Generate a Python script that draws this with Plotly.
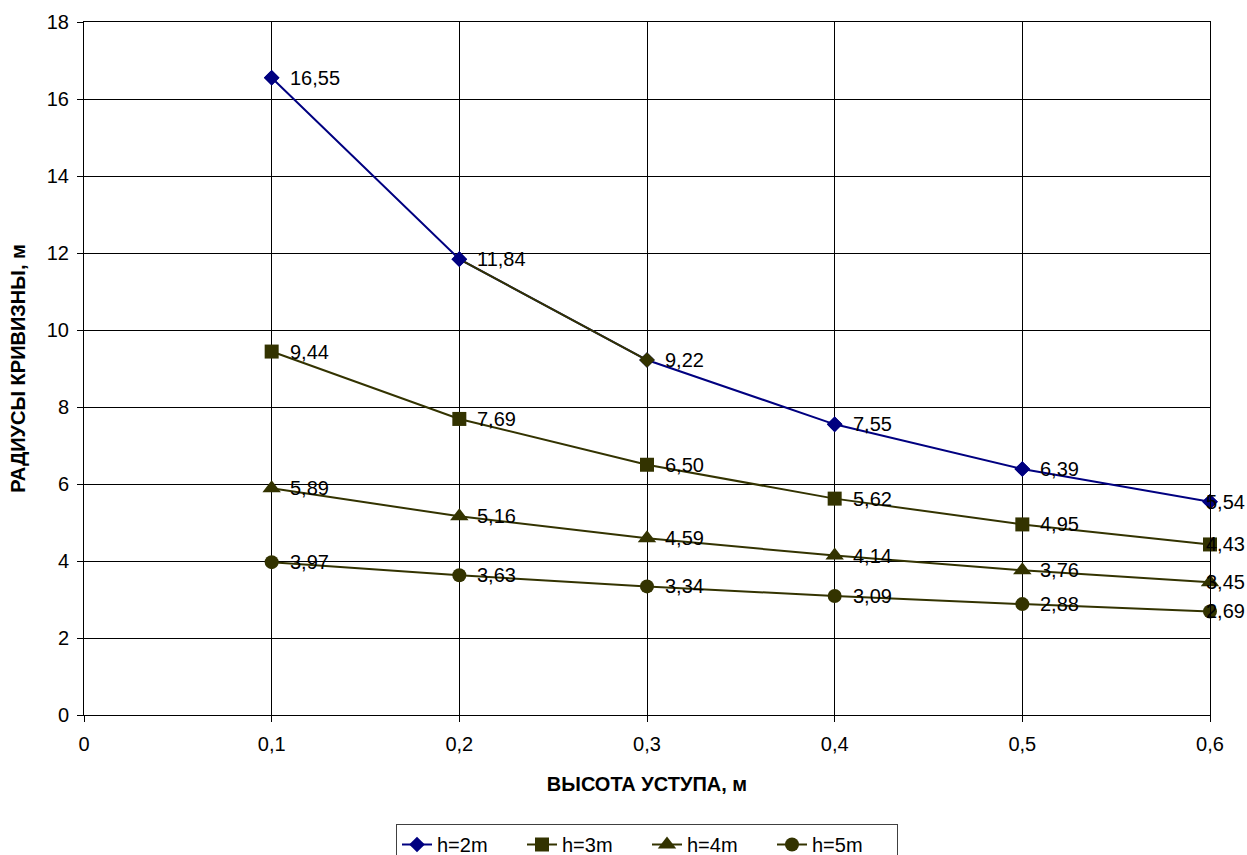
import plotly.graph_objects as go

x_vals = [0.1, 0.2, 0.3, 0.4, 0.5, 0.6]
series_names = ["h=2m", "h=3m", "h=4m", "h=5m"]
h2 = [16.55, 11.84, 9.22, 7.55, 6.39, 5.54]
h3 = [9.44, 7.69, 6.50, 5.62, 4.95, 4.43]
h4 = [5.89, 5.16, 4.59, 4.14, 3.76, 3.45]
h5 = [3.97, 3.63, 3.34, 3.09, 2.88, 2.69]
x_ticks = [0, 0.1, 0.2, 0.3, 0.4, 0.5, 0.6]
y_ticks = [0, 2, 4, 6, 8, 10, 12, 14, 16, 18]

NAVY = "#000080"
OLIVE = "#333300"
FONT = "Liberation Sans, Arial, sans-serif"
FS = 20

fig = go.Figure()

# h=2m: blue line; the segment 0.2-0.3 and marker at 0.3 are formatted olive (as in the original)
h2_marker_colors = [NAVY, NAVY, OLIVE, NAVY, NAVY, NAVY]
fig.add_trace(go.Scatter(
    x=x_vals, y=h2, name=series_names[0], mode="lines+markers",
    line=dict(color=NAVY, width=2),
    marker=dict(symbol="diamond", size=12, color=NAVY, line=dict(width=0)),
    cliponaxis=False,
))
fig.add_trace(go.Scatter(
    x=x_vals[1:3], y=h2[1:3], mode="lines", showlegend=False,
    line=dict(color=OLIVE, width=2), hoverinfo="skip", cliponaxis=False,
))
fig.add_trace(go.Scatter(
    x=x_vals, y=h2, mode="markers", showlegend=False,
    marker=dict(symbol="diamond", size=12, color=h2_marker_colors, line=dict(width=0)),
    hoverinfo="skip", cliponaxis=False,
))

for name, ys, sym, sz in [(series_names[1], h3, "square", 14),
                          (series_names[2], h4, "triangle-up", 16),
                          (series_names[3], h5, "circle", 14)]:
    fig.add_trace(go.Scatter(
        x=x_vals, y=ys, name=name, mode="lines+markers",
        line=dict(color=OLIVE, width=2),
        marker=dict(symbol=sym, size=sz, color=OLIVE, line=dict(width=0)),
        cliponaxis=False,
    ))

# data labels
annotations = []
for ys in [h2, h3, h4, h5]:
    for i, (xv, yv) in enumerate(zip(x_vals, ys)):
        last = i == len(x_vals) - 1
        annotations.append(dict(
            x=xv, y=yv, xref="x", yref="y",
            text=f"{yv:.2f}".replace(".", ","),
            showarrow=False, xanchor="left", yanchor="middle",
            xshift=-6 if last else 16,
            font=dict(family=FONT, size=FS, color="black"),
        ))

W, H = 1247, 855
L, R, T, B = 84, 37, 22, 140
plot_h = H - T - B
fig.update_layout(
    width=W, height=H,
    margin=dict(l=L, r=R, t=T, b=B, autoexpand=False),
    paper_bgcolor="white", plot_bgcolor="white",
    separators=", ",
    font=dict(family=FONT, size=FS, color="black"),
    showlegend=True,
    legend=dict(
        orientation="h",
        x=0.5, xanchor="center", y=-(824 - (H - B)) / plot_h, yanchor="top",
        bordercolor="#404040", borderwidth=1, bgcolor="white",
        font=dict(family=FONT, size=FS, color="black"),
        itemsizing="trace", entrywidth=80, entrywidthmode="pixels",
    ),
    annotations=annotations,
)

fig.update_xaxes(
    range=[0, 0.6], tickvals=x_ticks,
    ticktext=[str(v).replace(".", ",") for v in x_ticks],
    showgrid=True, gridcolor="black", gridwidth=1,
    showline=True, linecolor="black", linewidth=1, mirror=True,
    ticks="outside", ticklen=6, tickcolor="black", ticklabelstandoff=5,
    zeroline=False,
    tickfont=dict(family=FONT, size=FS),
    title=dict(text="<b>ВЫСОТА УСТУПА, м</b>", font=dict(family=FONT, size=FS), standoff=22),
)
fig.update_yaxes(
    range=[0, 18], tickvals=y_ticks,
    showgrid=True, gridcolor="black", gridwidth=1,
    showline=True, linecolor="black", linewidth=1, mirror=True,
    ticks="outside", ticklen=6, tickcolor="black", ticklabelstandoff=4,
    zeroline=False,
    tickfont=dict(family=FONT, size=FS),
    title=dict(text="<b>РАДИУСЫ КРИВИЗНЫ, м</b>", font=dict(family=FONT, size=FS), standoff=15),
)

fig.write_html("out.html", config={"displayModeBar": False},
               post_script="document.body.style.margin='0';")
